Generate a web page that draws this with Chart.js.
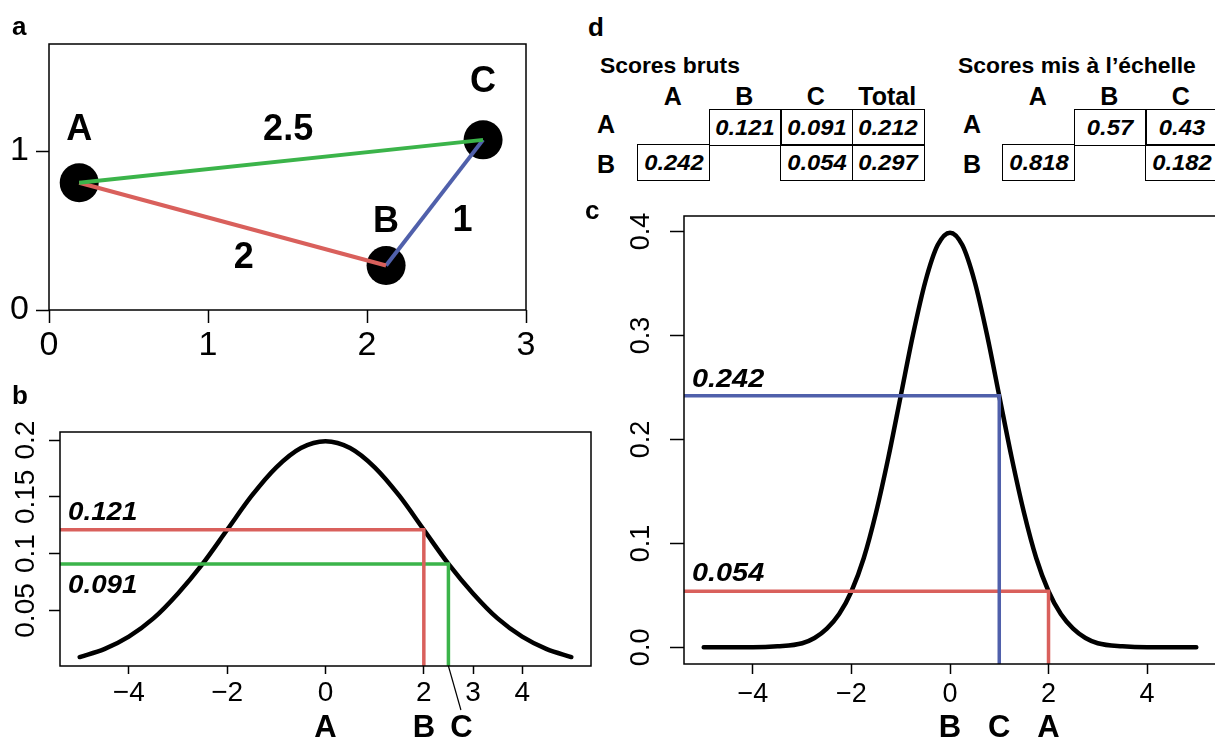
<!DOCTYPE html>
<html>
<head>
<meta charset="utf-8">
<script src="https://cdn.jsdelivr.net/npm/chart.js"></script>
<style>
  html, body { margin: 0; padding: 0; background: #fff; }
  body { width: 1215px; height: 740px; overflow: hidden; position: relative;
         font-family: "Liberation Sans", Arial, sans-serif; color: #000; }
  canvas { position: absolute; }
  .txt { position: absolute; white-space: nowrap; line-height: 1; }
  .cell { position: absolute; box-sizing: border-box; border: 1.5px solid #000; }
</style>
</head>
<body>
<canvas id="chartA" width="560" height="372" style="left:0;top:0"></canvas>
<canvas id="chartB" width="610" height="360" style="left:0;top:380px"></canvas>
<canvas id="chartC" width="620" height="550" style="left:600px;top:190px"></canvas>
<div id="tables"></div>
<script>
// --- a: three items on a plane, with their pairwise distances
const itemNames = ['A', 'B', 'C'];
const itemX = [0.19, 2.12, 2.73];
const itemY = [0.80, 0.28, 1.07];
const edgeFrom = [0, 0, 1];          // A-C, A-B, B-C
const edgeTo = [2, 1, 2];
const edgeDist = [2.5, 2, 1];
const aTicksX = [0, 1, 2, 3];
const aTicksY = [0, 1];

// --- b: density centred on A
const bCurveX = [-5, -4.5, -4, -3.5, -3, -2.5, -2, -1.5, -1, -0.5, 0, 0.5, 1, 1.5, 2, 2.5, 3, 3.5, 4, 4.5, 5];
const bCurveY = [0.009, 0.016, 0.027, 0.043, 0.065, 0.091, 0.121, 0.151, 0.176, 0.193, 0.199,
                 0.193, 0.176, 0.151, 0.121, 0.091, 0.065, 0.043, 0.027, 0.016, 0.009];
const bNames = ['A', 'B', 'C'];
const bPos = [0, 2, 2.5];
const bScores = [0.121, 0.091];      // read at B and C
const bTicksX = [-4, -2, 0, 2, 3, 4];
const bTicksY = [0.05, 0.1, 0.15, 0.2];

// --- c: density centred on B
const cCurveX = [-5, -4.5, -4, -3.5, -3, -2.75, -2.5, -2.25, -2, -1.75, -1.5, -1.25, -1, -0.75, -0.5, -0.25, 0,
                 0.25, 0.5, 0.75, 1, 1.25, 1.5, 1.75, 2, 2.25, 2.5, 2.75, 3, 3.5, 4, 4.5, 5];
const cCurveY = [0, 0, 0, 0.001, 0.004, 0.009, 0.018, 0.032, 0.054, 0.086, 0.130, 0.183, 0.242, 0.301, 0.352, 0.387, 0.399,
                 0.387, 0.352, 0.301, 0.242, 0.183, 0.130, 0.086, 0.054, 0.032, 0.018, 0.009, 0.004, 0.001, 0, 0, 0];
const cNames = ['B', 'C', 'A'];
const cPos = [0, 1, 2];
const cScores = [0.242, 0.054];      // read at C and A
const cTicksX = [-4, -2, 0, 2, 4];
const cTicksY = [0, 0.1, 0.2, 0.3, 0.4];

// --- d: score tables
const rowNames = ['A', 'B'];
const rawCols = ['A', 'B', 'C', 'Total'];
const rawScores = [[null, 0.121, 0.091, 0.212], [0.242, null, 0.054, 0.297]];
const scaledCols = ['A', 'B', 'C'];
const scaledScores = [[null, 0.57, 0.43], [0.818, null, 0.182]];

const FONT = '"Liberation Sans", Arial, sans-serif';
const RED = '#d9605c', GREEN = '#3bb44a', BLUE = '#5060ab';
Chart.defaults.color = '#000';
Chart.defaults.font.family = FONT;

const minus = v => (v < 0 ? '\u2212' + Math.abs(v) : String(v));

function axis(min, max, ticks, o) {
  return {
    type: 'linear', min: min, max: max,
    afterBuildTicks: s => { s.ticks = ticks.map(v => ({ value: v })); },
    afterFit: s => { if (o.width) s.width = o.width; if (o.height) s.height = o.height; },
    grid: { drawOnChartArea: false, drawTicks: true, tickLength: o.tick, tickWidth: 1.5, tickColor: '#000' },
    border: { display: false },
    ticks: { display: o.labels !== false, autoSkip: false, maxRotation: 0, color: '#000',
             font: { size: o.size || 28 }, padding: o.pad || 0, callback: v => (o.fmt ? o.fmt(v) : String(v)) }
  };
}

function text(ctx, str, x, y, style, size, align, stretch) {
  ctx.save();
  ctx.translate(x, y);
  ctx.scale(stretch || 1, 1);
  ctx.font = style + ' ' + size + 'px ' + FONT;
  ctx.textAlign = align || 'center';
  ctx.textBaseline = 'alphabetic';
  ctx.fillStyle = '#000';
  ctx.fillText(str, 0, 0);
  ctx.restore();
}

function rotText(ctx, str, cx, cy, size) {
  ctx.save();
  ctx.translate(cx, cy);
  ctx.rotate(-Math.PI / 2);
  ctx.font = size + 'px ' + FONT;
  ctx.textAlign = 'center';
  ctx.textBaseline = 'alphabetic';
  ctx.fillStyle = '#000';
  ctx.fillText(str, 0, size * 0.358);
  ctx.restore();
}

const boxPlugin = {
  id: 'box',
  afterDatasetsDraw(chart) {
    const { ctx, chartArea: a } = chart;
    ctx.save();
    ctx.strokeStyle = '#000';
    ctx.lineWidth = 1.5;
    ctx.strokeRect(a.left, a.top, a.right - a.left, a.bottom - a.top);
    ctx.restore();
  }
};

const baseOptions = (scales, pad) => ({
  responsive: false, maintainAspectRatio: false, animation: false,
  layout: { padding: pad },
  plugins: { legend: { display: false }, tooltip: { enabled: false } },
  scales: scales
});

// ---------- a ----------
const edgeColors = [GREEN, RED, BLUE];
const nameShift = [[0, -43], [0, -33], [0, -48]];
const distShift = [[7, -21], [11, 44], [28, 28]];

new Chart(document.getElementById('chartA'), {
  type: 'scatter',
  data: {
    datasets: edgeFrom.map((f, i) => ({
      data: [{ x: itemX[f], y: itemY[f] }, { x: itemX[edgeTo[i]], y: itemY[edgeTo[i]] }],
      showLine: true, borderColor: edgeColors[i], borderWidth: 4, pointRadius: 0, order: 0
    })).concat([{
      data: itemX.map((x, i) => ({ x: x, y: itemY[i] })),
      pointRadius: 19.5, pointBackgroundColor: '#000', backgroundColor: '#000',
      pointBorderWidth: 0, borderWidth: 0, showLine: false, order: 1
    }])
  },
  options: baseOptions({
    x: axis(0, 3, aTicksX, { tick: 13, size: 34, pad: 2, height: 62 }),
    y: axis(0, 1.673, aTicksY, { tick: 13, size: 34, pad: 7, width: 49 })
  }, { left: 0, top: 44, right: 34, bottom: 0 }),
  plugins: [boxPlugin, {
    id: 'aLabels',
    afterDraw(chart) {
      const { ctx } = chart, xs = chart.scales.x, ys = chart.scales.y;
      itemNames.forEach((n, i) => {
        text(ctx, n, xs.getPixelForValue(itemX[i]) + nameShift[i][0],
             ys.getPixelForValue(itemY[i]) + nameShift[i][1], 'bold', 36);
      });
      edgeDist.forEach((d, i) => {
        const mx = (xs.getPixelForValue(itemX[edgeFrom[i]]) + xs.getPixelForValue(itemX[edgeTo[i]])) / 2;
        const my = (ys.getPixelForValue(itemY[edgeFrom[i]]) + ys.getPixelForValue(itemY[edgeTo[i]])) / 2;
        text(ctx, String(d), mx + distShift[i][0], my + distShift[i][1], 'bold', 36);
      });
    }
  }]
});

// ---------- b & c: density with read-off guides ----------
function densityChart(id, cfg) {
  const guides = cfg.scores.map((s, k) => ({
    data: [{ x: cfg.xmin, y: s }, { x: cfg.pos[k + 1], y: s }, { x: cfg.pos[k + 1], y: cfg.ymin }],
    showLine: true, borderColor: cfg.colors[k], borderWidth: 3.5, pointRadius: 0,
    borderJoinStyle: 'miter', order: 0
  }));
  const curve = {
    data: cfg.cx.map((x, i) => ({ x: x, y: cfg.cy[i] })),
    showLine: true, borderColor: '#000', borderWidth: 4.5, pointRadius: 0,
    cubicInterpolationMode: 'monotone', borderCapStyle: 'round', order: 1
  };
  return new Chart(document.getElementById(id), {
    type: 'scatter',
    data: { datasets: guides.concat([curve]) },
    options: baseOptions({
      x: axis(cfg.xmin, cfg.xmax, cfg.ticksX, { tick: cfg.xTick, size: cfg.size, pad: cfg.xPad, height: cfg.xHeight, fmt: minus }),
      y: axis(cfg.ymin, cfg.ymax, cfg.ticksY, { tick: cfg.yTick, labels: false, width: cfg.yWidth })
    }, cfg.padding),
    plugins: [boxPlugin, {
      id: id + 'Labels',
      afterDraw(chart) {
        const { ctx, chartArea: a } = chart, xs = chart.scales.x, ys = chart.scales.y;
        cfg.ticksY.forEach(v => rotText(ctx, cfg.yFmt(v), cfg.yLabelX, ys.getPixelForValue(v), cfg.size));
        cfg.scores.forEach((s, k) => {
          text(ctx, String(s), a.left + 8, ys.getPixelForValue(s) + cfg.scoreShift[k],
               'italic bold', cfg.scoreSize, 'left', 1.11);
        });
        cfg.names.forEach((n, i) => {
          const px = xs.getPixelForValue(cfg.pos[i]);
          const dx = cfg.nameDx[i];
          text(ctx, n, px + dx, a.bottom + cfg.nameDrop, 'bold', 31);
          if (dx) {
            ctx.save();
            ctx.strokeStyle = '#000';
            ctx.lineWidth = 1.2;
            ctx.beginPath();
            ctx.moveTo(px, a.bottom);
            ctx.lineTo(px + dx - 0.5, a.bottom + 44);
            ctx.stroke();
            ctx.restore();
          }
        });
      }
    }]
  });
}

densityChart('chartB', {
  cx: bCurveX, cy: bCurveY, names: bNames, pos: bPos, scores: bScores, colors: [RED, GREEN],
  ticksX: bTicksX, ticksY: bTicksY, yFmt: v => String(v),
  xmin: -5.4, xmax: 5.4, ymin: 0.0011, ymax: 0.2071,
  xTick: 8, yTick: 11, xPad: 2, size: 28, xHeight: 74, yWidth: 60,
  padding: { left: 0, top: 52, right: 19, bottom: 0 },
  yLabelX: 24, scoreShift: [-10, 29], scoreSize: 25, nameDx: [0, 0, 13], nameDrop: 71
});

densityChart('chartC', {
  cx: cCurveX, cy: cCurveY, names: cNames, pos: cPos, scores: cScores, colors: [BLUE, RED],
  ticksX: cTicksX, ticksY: cTicksY, yFmt: v => v.toFixed(1),
  xmin: -5.4, xmax: 5.4, ymin: -0.016, ymax: 0.415,
  xTick: 10, yTick: 14, xPad: 4, size: 27, xHeight: 76, yWidth: 84,
  padding: { left: 0, top: 26, right: 4, bottom: 0 },
  yLabelX: 39, scoreShift: [-9, -10.5], scoreSize: 26, nameDx: [0, 0, 0], nameDrop: 73
});

// ---------- d: tables ----------
const host = document.getElementById('tables');
function addText(str, x, y, size, style, align, stretch) {
  const el = document.createElement('div');
  el.className = 'txt';
  el.textContent = str;
  el.style.left = x + 'px';
  el.style.top = y + 'px';
  el.style.fontSize = size + 'px';
  el.style.fontWeight = 'bold';
  if (style === 'italic') el.style.fontStyle = 'italic';
  const tx = align === 'left' ? '0' : '-50%';
  el.style.transformOrigin = align === 'left' ? 'left center' : 'center center';
  el.style.transform = 'translate(' + tx + ',-50%)' + (stretch ? ' scaleX(' + stretch + ')' : '');
  host.appendChild(el);
}

const COLW = 71.5, ROWTOP = 109, ROWH = 35;
const rowLabelY = [124, 163.5];
function buildTable(title, titleX, cols, scores, colLeft, rowLabelX) {
  addText(title, titleX, 66, 22, 'bold', 'left', 1.04);
  cols.forEach((c, j) => addText(c, colLeft + (j + 0.5) * COLW, 95.5, 25, 'bold'));
  rowNames.forEach((r, i) => {
    addText(r, rowLabelX, rowLabelY[i], 25, 'bold');
    scores[i].forEach((v, j) => {
      if (v === null) return;
      const cell = document.createElement('div');
      cell.className = 'cell';
      cell.style.left = (colLeft + j * COLW) + 'px';
      cell.style.top = (ROWTOP + i * ROWH) + 'px';
      cell.style.width = (COLW + 1.5) + 'px';
      cell.style.height = (ROWH + 1.5) + 'px';
      host.appendChild(cell);
      addText(String(v), colLeft + (j + 0.5) * COLW + 0.75, ROWTOP + (i + 0.5) * ROWH + 1.5, 22, 'italic', 'center', 1.08);
    });
  });
}
buildTable('Scores bruts', 600, rawCols, rawScores, 637, 606);
buildTable('Scores mis \u00e0 l\u2019\u00e9chelle', 958, scaledCols, scaledScores, 1002, 972);

// panel letters
[['a', 12, 35], ['b', 12, 404], ['c', 585, 219], ['d', 588, 36]].forEach(p => {
  addText(p[0], p[1], p[2] - 22 + 13, 26, 'bold', 'left');
});
</script>
</body>
</html>
